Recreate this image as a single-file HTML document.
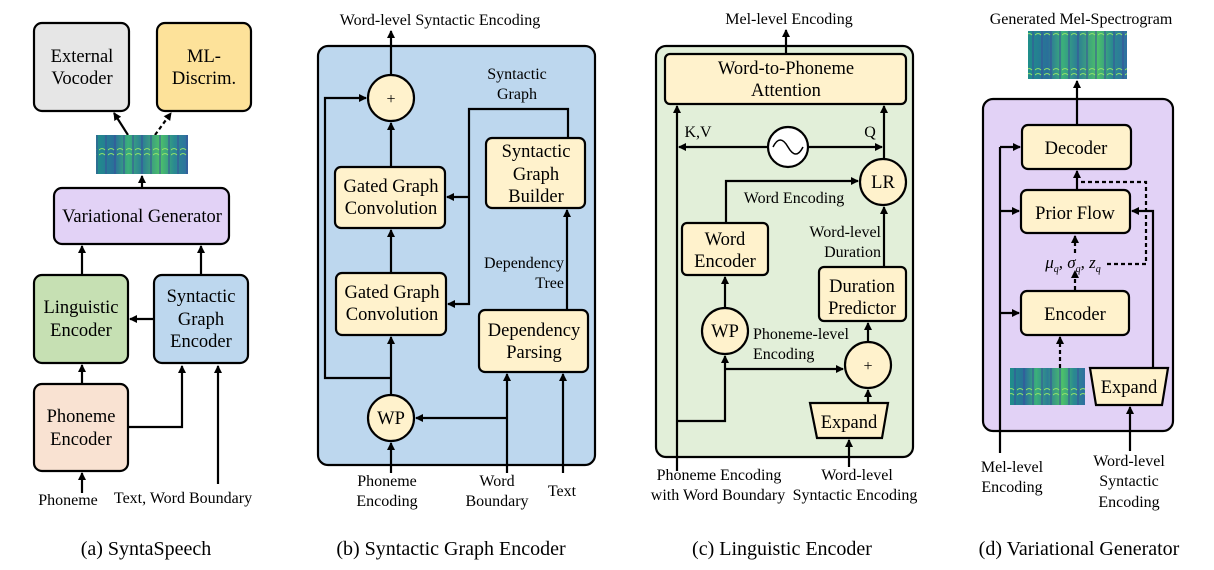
<!DOCTYPE html>
<html><head><meta charset="utf-8"><style>
html,body{margin:0;padding:0;background:#fff;}
svg{display:block;font-family:"Liberation Serif",serif;}
</style></head><body>
<svg width="1214" height="570" viewBox="0 0 1214 570" xmlns="http://www.w3.org/2000/svg">
<defs>
<marker id="a" markerWidth="8" markerHeight="8" refX="7" refY="4" orient="auto" markerUnits="userSpaceOnUse"><path d="M0,0 L8,4 L0,8 z" fill="#000"/></marker>
<linearGradient id="sp" x1="0" x2="1" y1="0" y2="0">
<stop offset="0" stop-color="#1f8f8a"/><stop offset="0.2" stop-color="#2a6f9a"/><stop offset="0.35" stop-color="#3bb07a"/><stop offset="0.5" stop-color="#2c7d95"/><stop offset="0.7" stop-color="#4cc06a"/><stop offset="0.85" stop-color="#2a8a90"/><stop offset="1" stop-color="#2f6fa0"/>
</linearGradient>
<pattern id="st" width="9" height="40" patternUnits="userSpaceOnUse"><rect x="6" width="2" height="40" fill="#3a4f9a" opacity="0.5"/><path d="M0,30 q3,-3 6,0 M0,35 q3,-3 6,0" stroke="#8fe06a" stroke-width="1" fill="none"/></pattern>
</defs>
<g stroke="#000" stroke-width="2.2" fill="none">
<!-- (a) -->
<rect x="34" y="23" width="95" height="88" rx="8" fill="#e6e6e6"/>
<rect x="157" y="23" width="94" height="88" rx="8" fill="#fde29a"/>
<rect x="54" y="188" width="175" height="56" rx="8" fill="#e2d2f6"/>
<rect x="34" y="275" width="94" height="88" rx="8" fill="#c6e0b3"/>
<rect x="154" y="275" width="94" height="88" rx="8" fill="#bdd7ee"/>
<rect x="34" y="384" width="94" height="87" rx="8" fill="#f9e2d2"/>
<line x1="128" y1="135" x2="114" y2="113" marker-end="url(#a)"/>
<line x1="155" y1="135" x2="171" y2="113" stroke-dasharray="4,3" marker-end="url(#a)"/>
<line x1="142" y1="188" x2="142" y2="176" marker-end="url(#a)"/>
<line x1="82" y1="275" x2="82" y2="246" marker-end="url(#a)"/>
<line x1="201" y1="275" x2="201" y2="246" marker-end="url(#a)"/>
<line x1="154" y1="319" x2="130" y2="319" marker-end="url(#a)"/>
<line x1="82" y1="384" x2="82" y2="365" marker-end="url(#a)"/>
<polyline points="128,427 182,427 182,366" marker-end="url(#a)"/>
<line x1="218" y1="484" x2="218" y2="366" marker-end="url(#a)"/>
<line x1="82" y1="493" x2="82" y2="473" marker-end="url(#a)"/>
<!-- (b) -->
<rect x="318" y="46" width="277" height="419" rx="10" fill="#bdd7ee"/>
<line x1="391" y1="75" x2="391" y2="31" marker-end="url(#a)"/>
<polyline points="391,378 325,378 325,98 366,98" marker-end="url(#a)"/>
<circle cx="391" cy="98" r="23" fill="#fff2cc"/>
<rect x="335" y="167" width="110" height="61" rx="6" fill="#fff2cc"/>
<rect x="336" y="273" width="110" height="62" rx="6" fill="#fff2cc"/>
<rect x="486" y="138" width="99" height="70" rx="6" fill="#fff2cc"/>
<rect x="479" y="310" width="109" height="62" rx="6" fill="#fff2cc"/>
<circle cx="391" cy="418" r="23" fill="#fff2cc"/>
<line x1="391" y1="167" x2="391" y2="123" marker-end="url(#a)"/>
<line x1="391" y1="273" x2="391" y2="230" marker-end="url(#a)"/>
<line x1="391" y1="395" x2="391" y2="337" marker-end="url(#a)"/>
<line x1="391" y1="473" x2="391" y2="443" marker-end="url(#a)"/>
<polyline points="568,138 568,109 469,109 469,304 448,304" marker-end="url(#a)"/>
<line x1="469" y1="197" x2="447" y2="197" marker-end="url(#a)"/>
<line x1="567" y1="310" x2="567" y2="210" marker-end="url(#a)"/>
<line x1="507" y1="473" x2="507" y2="374" marker-end="url(#a)"/>
<line x1="507" y1="418" x2="416" y2="418" marker-end="url(#a)"/>
<line x1="563" y1="473" x2="563" y2="374" marker-end="url(#a)"/>
<!-- (c) -->
<rect x="656" y="46" width="257" height="411" rx="10" fill="#e2efd9"/>
<line x1="786" y1="54" x2="786" y2="30" marker-end="url(#a)"/>
<rect x="665" y="54" width="241" height="50" rx="5" fill="#fff2cc"/>
<line x1="677" y1="471" x2="677" y2="106" marker-end="url(#a)"/>
<line x1="768" y1="147" x2="679" y2="147" marker-end="url(#a)"/>
<line x1="808" y1="147" x2="882" y2="147" marker-end="url(#a)"/>
<circle cx="788" cy="147" r="20" fill="#fff"/>
<path d="M773,147 q7,-14 15,0 q8,14 15,0" stroke-width="1.5"/>
<line x1="884" y1="159" x2="884" y2="106" marker-end="url(#a)"/>
<circle cx="883" cy="182" r="23" fill="#fff2cc"/>
<polyline points="726,223 726,181 858,181" marker-end="url(#a)"/>
<rect x="682" y="223" width="86" height="52" rx="5" fill="#fff2cc"/>
<rect x="819" y="267" width="87" height="54" rx="5" fill="#fff2cc"/>
<line x1="884" y1="267" x2="884" y2="207" marker-end="url(#a)"/>
<circle cx="725" cy="331" r="23" fill="#fff2cc"/>
<line x1="725" y1="308" x2="725" y2="277" marker-end="url(#a)"/>
<polyline points="677,421 725,421 725,356" marker-end="url(#a)"/>
<line x1="725" y1="369" x2="843" y2="369" marker-end="url(#a)"/>
<circle cx="868" cy="365" r="23" fill="#fff2cc"/>
<line x1="868" y1="342" x2="868" y2="323" marker-end="url(#a)"/>
<polygon points="810,403 888,403 882,438 817,438" fill="#fff2cc"/>
<line x1="868" y1="403" x2="868" y2="390" marker-end="url(#a)"/>
<line x1="849" y1="467" x2="849" y2="440" marker-end="url(#a)"/>
<!-- (d) -->
<rect x="983" y="99" width="190" height="332" rx="10" fill="#e2d2f6"/>
<line x1="1077" y1="125" x2="1077" y2="81" marker-end="url(#a)"/>
<rect x="1022" y="125" width="109" height="44" rx="6" fill="#fff2cc"/>
<rect x="1021" y="190" width="109" height="43" rx="6" fill="#fff2cc"/>
<rect x="1021" y="291" width="108" height="44" rx="6" fill="#fff2cc"/>
<line x1="1077" y1="190" x2="1077" y2="171" marker-end="url(#a)"/>
<polyline points="1107,264 1146,264 1146,182 1077,182" stroke-dasharray="4,3"/>
<line x1="1075" y1="253" x2="1075" y2="236" stroke-dasharray="4,3" marker-end="url(#a)"/>
<line x1="1075" y1="290" x2="1075" y2="271" stroke-dasharray="4,3" marker-end="url(#a)"/>
<line x1="1000" y1="453" x2="1000" y2="147"/>
<line x1="1000" y1="147" x2="1020" y2="147" marker-end="url(#a)"/>
<line x1="1000" y1="211" x2="1019" y2="211" marker-end="url(#a)"/>
<line x1="1000" y1="313" x2="1019" y2="313" marker-end="url(#a)"/>
<line x1="1060" y1="368" x2="1060" y2="337" stroke-dasharray="4,3" marker-end="url(#a)"/>
<polygon points="1090,368 1168,368 1162,405 1096,405" fill="#fff2cc"/>
<polyline points="1153,368 1153,211 1132,211" marker-end="url(#a)"/>
<line x1="1130" y1="451" x2="1130" y2="407" marker-end="url(#a)"/>
</g>
<rect x="96" y="135" width="92" height="39" fill="url(#sp)"/><rect x="96" y="135" width="92" height="39" fill="url(#st)"/>
<rect x="1028" y="31" width="99" height="48" fill="url(#sp)"/><rect x="1028" y="31" width="99" height="48" fill="url(#st)"/>
<rect x="1010" y="368" width="75" height="37" fill="url(#sp)"/><rect x="1010" y="368" width="75" height="37" fill="url(#st)"/>
<g font-size="18.5" text-anchor="middle" fill="#000">
<text x="82" y="62">External</text><text x="82" y="84">Vocoder</text>
<text x="204" y="62">ML-</text><text x="204" y="84">Discrim.</text>
<text x="142" y="222">Variational Generator</text>
<text x="81" y="313">Linguistic</text><text x="81" y="336">Encoder</text>
<text x="201" y="302">Syntactic</text><text x="201" y="325">Graph</text><text x="201" y="347">Encoder</text>
<text x="81" y="422">Phoneme</text><text x="81" y="445">Encoder</text>
<text x="391" y="104" font-size="16">+</text>
<text x="391" y="192">Gated Graph</text><text x="391" y="214">Convolution</text>
<text x="392" y="298">Gated Graph</text><text x="392" y="320">Convolution</text>
<text x="536" y="157">Syntactic</text><text x="536" y="180">Graph</text><text x="536" y="202">Builder</text>
<text x="534" y="336">Dependency</text><text x="534" y="358">Parsing</text>
<text x="391" y="424">WP</text>
<text x="786" y="74">Word-to-Phoneme</text><text x="786" y="96">Attention</text>
<text x="883" y="188">LR</text>
<text x="725" y="245">Word</text><text x="725" y="267">Encoder</text>
<text x="862" y="292">Duration</text><text x="862" y="314">Predictor</text>
<text x="725" y="337">WP</text>
<text x="868" y="371" font-size="16">+</text>
<text x="849" y="428">Expand</text>
<text x="1076" y="154">Decoder</text>
<text x="1075" y="219">Prior Flow</text>
<text x="1075" y="320">Encoder</text>
<text x="1129" y="393">Expand</text>
</g>
<g font-size="16" text-anchor="middle" fill="#000">
<text x="440" y="25">Word-level Syntactic Encoding</text>
<text x="517" y="79">Syntactic</text><text x="517" y="99">Graph</text>
<text x="564" y="268" text-anchor="end">Dependency</text><text x="564" y="288" text-anchor="end">Tree</text>
<text x="387" y="486">Phoneme</text><text x="387" y="506">Encoding</text>
<text x="497" y="486">Word</text><text x="497" y="506">Boundary</text>
<text x="562" y="496">Text</text>
<text x="68" y="505">Phoneme</text>
<text x="183" y="503">Text, Word Boundary</text>
<text x="789" y="24">Mel-level Encoding</text>
<text x="698" y="137">K,V</text><text x="870" y="137">Q</text>
<text x="794" y="203">Word Encoding</text>
<text x="881" y="237" text-anchor="end">Word-level</text><text x="881" y="257" text-anchor="end">Duration</text>
<text x="753" y="339" text-anchor="start">Phoneme-level</text><text x="753" y="359" text-anchor="start">Encoding</text>
<text x="719" y="480">Phoneme Encoding</text><text x="718" y="500">with Word Boundary</text>
<text x="857" y="480">Word-level</text><text x="855" y="500">Syntactic Encoding</text>
<text x="1081" y="24">Generated Mel-Spectrogram</text>
<text x="1073" y="268" font-style="italic" font-size="17">μ<tspan font-size="10" dy="4">q</tspan><tspan dy="-4">, σ</tspan><tspan font-size="10" dy="4">q</tspan><tspan dy="-4">, z</tspan><tspan font-size="10" dy="4">q</tspan></text>
<text x="1012" y="472">Mel-level</text><text x="1012" y="492">Encoding</text>
<text x="1129" y="466">Word-level</text><text x="1129" y="486">Syntactic</text><text x="1129" y="507">Encoding</text>
</g>
<g font-size="20" text-anchor="middle" fill="#000">
<text x="146" y="555">(a) SyntaSpeech</text>
<text x="451" y="555">(b) Syntactic Graph Encoder</text>
<text x="782" y="555">(c) Linguistic Encoder</text>
<text x="1079" y="555">(d) Variational Generator</text>
</g>
</svg>
</body></html>
